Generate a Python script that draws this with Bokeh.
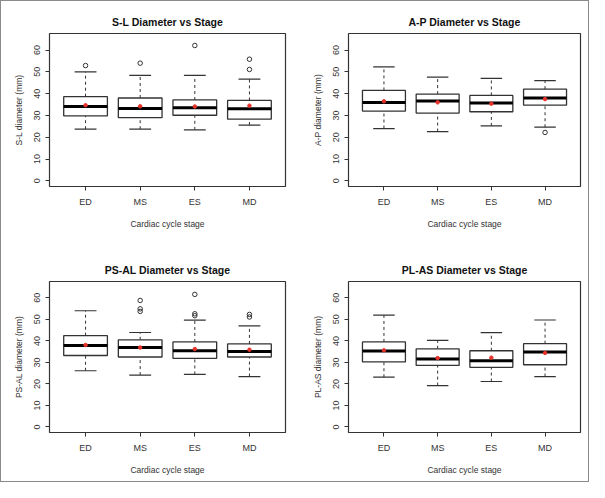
from bokeh.plotting import figure
from bokeh.layouts import column, row
from bokeh.models import FixedTicker, Range1d, ColumnDataSource
from bokeh.embed import file_html
from bokeh.resources import INLINE

STAGES = ["ED", "MS", "ES", "MD"]
Y_TICKS = [0, 10, 20, 30, 40, 50, 60]
X_LABEL = "Cardiac cycle stage"

# S-L diameter
SL_LOW = [23.7, 23.7, 23.4, 25.6]
SL_Q1 = [29.8, 29.0, 30.1, 28.3]
SL_MED = [34.1, 33.2, 33.5, 33.1]
SL_Q3 = [38.6, 38.0, 37.1, 36.9]
SL_HIGH = [50.0, 48.4, 48.4, 46.7]
SL_MEAN = [34.7, 34.2, 34.1, 34.5]
SL_OUT_STAGE = ["ED", "MS", "ES", "MD", "MD"]
SL_OUT_VAL = [52.9, 54.0, 62.1, 55.8, 51.1]

# A-P diameter
AP_LOW = [24.0, 22.6, 25.2, 24.6]
AP_Q1 = [32.0, 31.1, 31.7, 34.7]
AP_MED = [35.9, 36.6, 35.7, 38.0]
AP_Q3 = [41.5, 39.8, 39.2, 42.1]
AP_HIGH = [52.3, 47.6, 47.0, 46.0]
AP_MEAN = [36.5, 36.0, 35.4, 37.5]
AP_OUT_STAGE = ["MD"]
AP_OUT_VAL = [22.2]

# PS-AL diameter
PS_LOW = [26.1, 24.1, 24.4, 23.4]
PS_Q1 = [33.2, 32.5, 31.9, 32.5]
PS_MED = [37.8, 36.9, 35.4, 35.1]
PS_Q3 = [42.4, 40.5, 39.5, 38.6]
PS_HIGH = [54.0, 43.9, 49.6, 47.0]
PS_MEAN = [38.1, 36.9, 36.2, 35.9]
PS_OUT_STAGE = ["MS", "MS", "MS", "ES", "ES", "ES", "MD", "MD"]
PS_OUT_VAL = [58.8, 54.9, 53.7, 61.6, 52.6, 51.7, 52.3, 51.1]

# PL-AS diameter
PL_LOW = [23.1, 19.2, 21.1, 23.4]
PL_Q1 = [30.2, 28.6, 27.7, 28.9]
PL_MED = [35.3, 31.6, 30.8, 34.8]
PL_Q3 = [39.5, 36.3, 35.4, 38.7]
PL_HIGH = [52.0, 40.2, 43.8, 49.7]
PL_MEAN = [35.6, 32.0, 32.2, 34.4]
PL_OUT_STAGE = []
PL_OUT_VAL = []

FONT = "Liberation Sans"
INK = "#333333"


def panel(title, ylabel, low, q1, med, q3, high, mean, out_stage, out_val,
          width, height, bl, br, bt, bb):
    pos = [i + 1 for i in range(len(STAGES))]
    p = figure(width=width, height=height, output_backend="svg",
               toolbar_location=None, x_range=Range1d(0.34, 4.66),
               y_range=Range1d(-2.6, 67.6), title=title,
               min_border_left=bl, min_border_right=br,
               min_border_top=bt, min_border_bottom=bb)
    src = ColumnDataSource(dict(
        x=pos,
        l=[x - 0.4 for x in pos], r=[x + 0.4 for x in pos],
        cl=[x - 0.2 for x in pos], cr=[x + 0.2 for x in pos],
        low=low, q1=q1, med=med, q3=q3, high=high, mean=mean))
    # whiskers
    p.segment(x0="x", x1="x", y0="q3", y1="high", source=src,
              line_color=INK, line_width=1, line_dash="3 3")
    p.segment(x0="x", x1="x", y0="low", y1="q1", source=src,
              line_color=INK, line_width=1, line_dash="3 3")
    # caps
    p.segment(x0="cl", x1="cr", y0="high", y1="high", source=src,
              line_color=INK, line_width=1.2)
    p.segment(x0="cl", x1="cr", y0="low", y1="low", source=src,
              line_color=INK, line_width=1.2)
    # boxes
    p.quad(left="l", right="r", bottom="q1", top="q3", source=src,
           fill_color="white", line_color=INK, line_width=1.3)
    # medians
    p.segment(x0="l", x1="r", y0="med", y1="med", source=src,
              line_color="black", line_width=3)
    # means
    p.scatter(x="x", y="mean", source=src, size=3.5, marker="circle",
              fill_color="#e8322c", line_color="#e8322c")
    # outliers
    if out_val:
        ox = [STAGES.index(s) + 1 for s in out_stage]
        p.scatter(x=ox, y=out_val, size=4.5, marker="circle",
                  fill_color=None, line_color=INK, line_width=1)

    p.xgrid.visible = False
    p.ygrid.visible = False
    p.outline_line_color = INK
    p.outline_line_width = 1.2
    p.background_fill_color = "white"
    p.border_fill_color = "white"

    p.title.text_font = FONT
    p.title.text_font_size = "10.5px"
    p.title.text_font_style = "bold"
    p.title.text_color = "#111111"
    p.title.align = "center"
    p.title.standoff = 11

    xa = p.xaxis[0]
    xa.ticker = FixedTicker(ticks=pos)
    xa.major_label_overrides = {x: s for x, s in zip(pos, STAGES)}
    xa.bounds = (1, 4)
    xa.axis_label = X_LABEL
    ya = p.yaxis[0]
    ya.ticker = FixedTicker(ticks=Y_TICKS)
    ya.bounds = (0, 60)
    ya.axis_label = ylabel
    ya.major_label_orientation = "vertical"
    for a in (xa, ya):
        a.axis_line_color = INK
        a.major_tick_line_color = INK
        a.minor_tick_line_color = None
        a.major_tick_in = 0
        a.major_tick_out = 4
        a.major_label_text_font = FONT
        a.major_label_text_font_size = "9px"
        a.major_label_text_color = INK
        a.axis_label_text_font = FONT
        a.axis_label_text_font_size = "8.5px"
        a.axis_label_text_font_style = "normal"
        a.axis_label_text_color = INK
    xa.major_label_standoff = 6
    xa.axis_label_standoff = 9
    ya.major_label_standoff = 5
    ya.axis_label_standoff = 8
    return p


p1 = panel("S-L Diameter vs Stage", "S-L diameter (mm)", SL_LOW, SL_Q1, SL_MED,
           SL_Q3, SL_HIGH, SL_MEAN, SL_OUT_STAGE, SL_OUT_VAL,
           293, 243, 48, 9, 32, 58)
p2 = panel("A-P Diameter vs Stage", "A-P diameter (mm)", AP_LOW, AP_Q1, AP_MED,
           AP_Q3, AP_HIGH, AP_MEAN, AP_OUT_STAGE, AP_OUT_VAL,
           294, 243, 54, 8, 32, 58)
p3 = panel("PS-AL Diameter vs Stage", "PS-AL diameter (mm)", PS_LOW, PS_Q1,
           PS_MED, PS_Q3, PS_HIGH, PS_MEAN, PS_OUT_STAGE, PS_OUT_VAL,
           293, 237, 48, 9, 37, 49)
p4 = panel("PL-AS Diameter vs Stage", "PL-AS diameter (mm)", PL_LOW, PL_Q1,
           PL_MED, PL_Q3, PL_HIGH, PL_MEAN, PL_OUT_STAGE, PL_OUT_VAL,
           294, 237, 54, 8, 37, 49)

layout = column(row(p1, p2, spacing=0), row(p3, p4, spacing=0), spacing=0)
layout.styles = {"border": "1px solid #8a8a8a"}

open("out.html", "w").write(file_html(layout, INLINE))
